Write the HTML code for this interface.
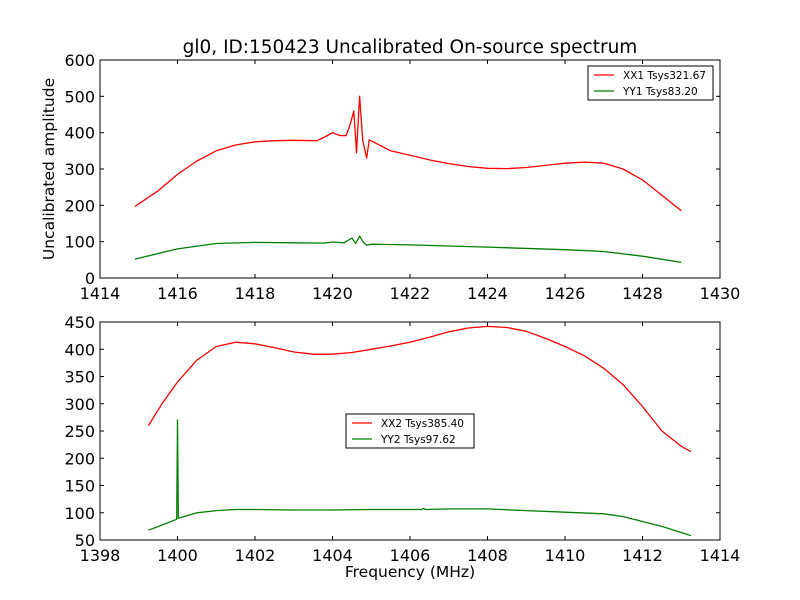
<!DOCTYPE html>
<html><head><meta charset="utf-8"><style>
body{margin:0;background:#fff;}
svg{display:block;font-family:"DejaVu Sans","Liberation Sans",sans-serif;}
</style></head><body>
<svg id="c" width="800" height="600"></svg>
<script>
const xx1Freq=[1414.9,1415.5,1416,1416.5,1417,1417.5,1418,1418.5,1419,1419.6,1419.8,1420,1420.2,1420.35,1420.45,1420.55,1420.62,1420.7,1420.78,1420.88,1420.95,1421.1,1421.5,1422,1422.5,1423,1423.5,1424,1424.5,1425,1425.5,1426,1426.5,1427,1427.5,1428,1428.5,1429];
const xx1Amp=[197,240,285,322,350,366,375,378,379,378,388,400,392,392,420,460,345,500,380,330,380,372,350,338,325,315,307,302,301,304,310,316,319,316,300,270,228,185];
const yy1Freq=[1414.9,1416,1417,1418,1419,1419.8,1420,1420.3,1420.5,1420.6,1420.7,1420.8,1420.88,1421,1422,1424,1426,1427,1428,1429];
const yy1Amp=[52,80,95,98,97,96,99,97,110,95,115,98,90,93,91,85,78,73,60,43];
const xx2Freq=[1399.25,1399.6,1400,1400.5,1401,1401.5,1402,1402.5,1403,1403.5,1404,1404.5,1405,1405.5,1406,1406.5,1407,1407.5,1408,1408.5,1409,1409.5,1410,1410.5,1411,1411.5,1412,1412.5,1413,1413.25];
const xx2Amp=[260,300,340,380,405,413,410,403,395,391,391,394,400,406,413,422,432,439,442,440,433,420,405,388,365,335,295,250,222,212];
const yy2Freq=[1399.25,1399.7,1399.98,1400,1400.02,1400.5,1401,1401.5,1402,1403,1404,1405,1406.3,1406.35,1406.4,1407,1408,1409,1410,1411,1411.5,1412,1412.5,1413.25];
const yy2Amp=[68,80,88,270,90,100,104,106,106,105,105,106,106,108,106,107,107,104,101,98,93,84,75,58];
const topXTicks=[1414,1416,1418,1420,1422,1424,1426,1428,1430];
const topYTicks=[0,100,200,300,400,500,600];
const botXTicks=[1398,1400,1402,1404,1406,1408,1410,1412,1414];
const botYTicks=[50,100,150,200,250,300,350,400,450];

const svg=document.getElementById('c');
const NS='http://www.w3.org/2000/svg';
function mk(t,a,parent){const e=document.createElementNS(NS,t);for(const k in a)e.setAttribute(k,a[k]);(parent||svg).appendChild(e);return e;}
function panel(name,L,T,R,B,x0,x1,y0,y1,xt,yt,series,legend){
  const g=mk('g',{});
  
  
  const sx=v=>L+(v-x0)/(x1-x0)*(R-L), sy=v=>B-(v-y0)/(y1-y0)*(B-T);
  series.forEach(s=>{
    const d=s.f.map((f,i)=>(i?'L':'M')+sx(f).toFixed(1)+','+sy(s.a[i]).toFixed(1)).join('');
    const p=mk('path',{d:d,fill:'none',stroke:s.c,'stroke-width':1.3,'stroke-linejoin':'round'},g);
    
    
  });
  const fr=mk('rect',{x:L,y:T,width:R-L,height:B-T,fill:'none',stroke:'#000','stroke-width':1},g);
  
  
  xt.forEach(v=>{const x=sx(v);mk('line',{x1:x,x2:x,y1:B,y2:B-4,stroke:'#000'},g);mk('line',{x1:x,x2:x,y1:T,y2:T+4,stroke:'#000'},g);
    const t=mk('text',{x:x,y:B+21,'text-anchor':'middle','font-size':16},g);t.textContent=v;
    });
  yt.forEach(v=>{const y=sy(v);mk('line',{x1:L,x2:L+4,y1:y,y2:y,stroke:'#000'},g);mk('line',{x1:R,x2:R-4,y1:y,y2:y,stroke:'#000'},g);
    const t=mk('text',{x:L-5,y:y+6,'text-anchor':'end','font-size':16},g);t.textContent=v;
    });
  const lg=mk('g',{},g);
  
  
  mk('rect',{x:legend.x,y:legend.y,width:legend.w,height:34,fill:'#fff',stroke:'#000'},lg);
  series.forEach((s,i)=>{const y=legend.y+9+i*16;
    mk('line',{x1:legend.x+6,x2:legend.x+26,y1:y,y2:y,stroke:s.c,'stroke-width':1.3},lg);
    const t=mk('text',{x:legend.x+35,y:y+4,'font-size':10.5},lg);t.textContent=s.label;
    });
}
panel('top-panel',100,60,720,278,1414,1430,0,600,topXTicks,topYTicks,
  [{f:xx1Freq,a:xx1Amp,c:'#ff0000',n:'xx1-line',label:'XX1 Tsys321.67'},{f:yy1Freq,a:yy1Amp,c:'#008000',n:'yy1-line',label:'YY1 Tsys83.20'}],
  {x:588,y:66,w:125});
panel('bottom-panel',100,322,720,540,1398,1414,50,450,botXTicks,botYTicks,
  [{f:xx2Freq,a:xx2Amp,c:'#ff0000',n:'xx2-line',label:'XX2 Tsys385.40'},{f:yy2Freq,a:yy2Amp,c:'#008000',n:'yy2-line',label:'YY2 Tsys97.62'}],
  {x:346,y:414,w:128});
let t=mk('text',{x:410,y:53,'text-anchor':'middle','font-size':18.5});t.textContent='gl0, ID:150423 Uncalibrated On-source spectrum';

t=mk('text',{x:410,y:577,'text-anchor':'middle','font-size':15.5});t.textContent='Frequency (MHz)';

t=mk('text',{x:54,y:169,'text-anchor':'middle','font-size':15.5,transform:'rotate(-90 54 169)'});t.textContent='Uncalibrated amplitude';

</script>
</body></html>
